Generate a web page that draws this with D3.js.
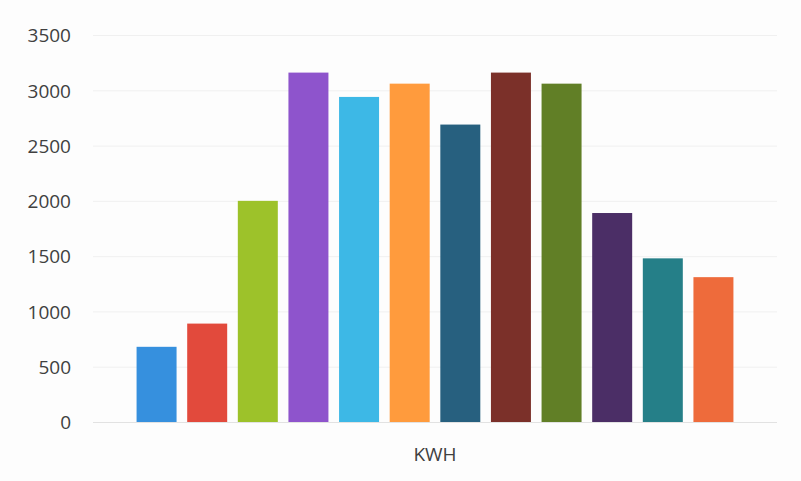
<!DOCTYPE html>
<html>
<head>
<meta charset="utf-8">
<script src="https://cdn.jsdelivr.net/npm/d3@7"></script>
<style>
  body { margin: 0; background: #fdfdfd; }
  text { font-family: "Open Sans", sans-serif; fill: #404040; }
</style>
</head>
<body>
<div id="chart"></div>
<script>
var categories = ["KWH"];
var series = ["S1", "S2", "S3", "S4", "S5", "S6", "S7", "S8", "S9", "S10", "S11", "S12"];
var values = [680, 890, 2000, 3160, 2940, 3060, 2690, 3160, 3060, 1890, 1480, 1310];
var colors = ["#3690de", "#e24a3c", "#9dc22a", "#8e54cc", "#3db8e6", "#ff9b3d",
              "#27607f", "#7b3029", "#617f26", "#4b2e66", "#257f88", "#ee6b3b"];
var yTicks = [0, 500, 1000, 1500, 2000, 2500, 3000, 3500];

var width = 801, height = 481;
var plot = {left: 93, right: 777, top: 35, bottom: 422};

var svg = d3.select("#chart")
    .append("svg")
        .attr("width", width)
        .attr("height", height);

var x0 = d3.scaleBand()
        .domain(categories)
        .range([plot.left, plot.right])
        .paddingOuter(0.073);

var x1 = d3.scaleBand()
        .domain(series)
        .range([0, x0.bandwidth()])
        .paddingInner(0.21);

var y = d3.scaleLinear()
        .domain([0, 3500])
        .range([plot.bottom, plot.top]);

// gridlines, very faint in the original
svg.append("g")
    .selectAll("line")
    .data(yTicks)
  .enter().append("line")
    .attr("x1", plot.left)
    .attr("x2", plot.right)
    .attr("y1", function(d) { return y(d) + 0.5; })
    .attr("y2", function(d) { return y(d) + 0.5; })
    .attr("stroke", function(d) { return d === 0 ? "#e2e2e2" : "#f0f0f0"; })
    .attr("stroke-width", 1);

var yAxis = svg.append("g")
    .attr("transform", "translate(" + 71 + ",0)")
    .call(d3.axisLeft(y).tickValues(yTicks).tickSize(0).tickPadding(0).tickFormat(d3.format("d")));
yAxis.select(".domain").remove();
yAxis.selectAll("text")
    .style("font-size", "19px")
    .attr("dy", "0.36em");

var group = svg.selectAll(".cat")
    .data(categories)
  .enter().append("g")
    .attr("class", "cat")
    .attr("transform", function(d) { return "translate(" + x0(d) + ",0)"; });

group.selectAll("rect")
    .data(series.map(function(s, i) { return {s: s, v: values[i], c: colors[i]}; }))
  .enter().append("rect")
    .attr("x", function(d) { return x1(d.s); })
    .attr("width", x1.bandwidth())
    .attr("y", function(d) { return y(d.v); })
    .attr("height", function(d) { return y(0) - y(d.v); })
    .attr("fill", function(d) { return d.c; });

svg.selectAll(".cat-label")
    .data(categories)
  .enter().append("text")
    .attr("class", "cat-label")
    .attr("x", function(d) { return x0(d) + x0.bandwidth() / 2; })
    .attr("y", 461)
    .attr("text-anchor", "middle")
    .style("font-size", "19px")
    .text(function(d) { return d; });
</script>
</body>
</html>
